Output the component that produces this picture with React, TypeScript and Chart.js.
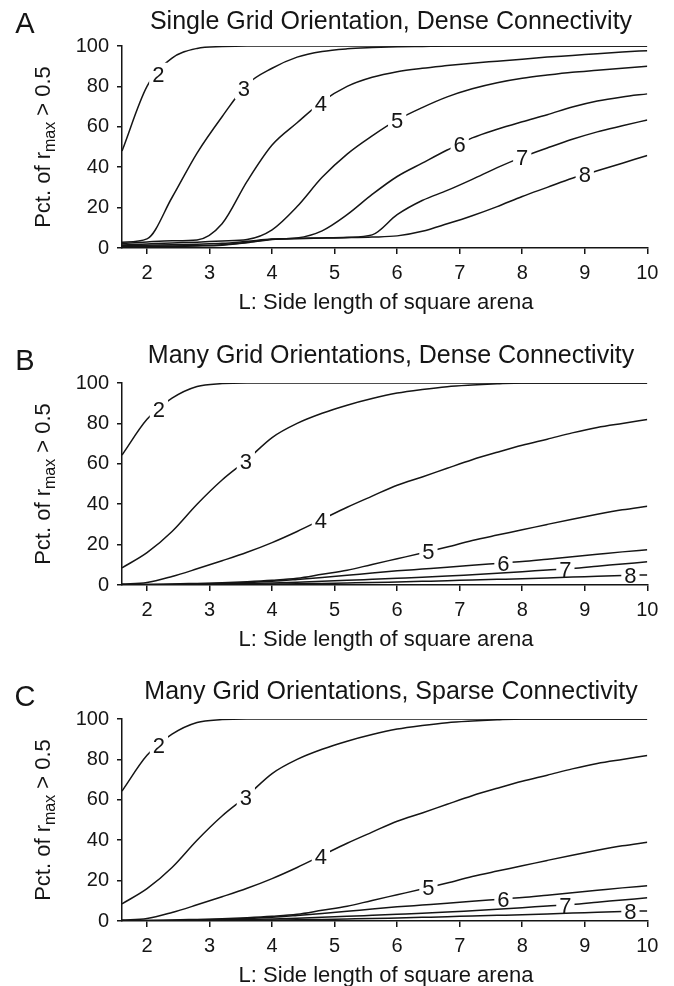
import { useEffect, useRef } from "react";
import { Chart, registerables } from "chart.js";

Chart.register(...registerables);

const FONT = "'Liberation Sans', Arial, Helvetica, sans-serif";
const INK = "#151515";

// Shared x sample positions (L: side length)
const xValues = [1.6, 2.0, 2.4, 2.8, 3.2, 3.6, 4.0, 4.4, 4.8, 5.2, 5.6, 6.0, 6.4, 6.8, 7.2, 7.6, 8.0, 8.4, 8.8, 9.2, 9.6, 10.0];
const xTickValues = [2, 3, 4, 5, 6, 7, 8, 9, 10];
const yTickValues = [0, 20, 40, 60, 80, 100];
const seriesNames = ["2", "3", "4", "5", "6", "7", "8"];

// Panel A: Single Grid Orientation, Dense Connectivity
const a2 = [48, 80, 94, 98.8, 99.7, 100, 100, 100, 100, 100, 100, 100, 100, 100, 100, 100, 100, 100, 100, 100, 100, 100];
const a3 = [2.8, 4.5, 25, 47, 65, 81, 89, 94.5, 97.3, 98.6, 99.2, 99.6, 99.8, 100, 100, 100, 100, 100, 100, 100, 100, 100];
const a4 = [2.2, 3.0, 3.6, 4.0, 12, 33, 51, 62, 72.5, 80, 84.5, 87.3, 89, 90.3, 91.5, 92.5, 93.5, 94.5, 95.3, 96.2, 97, 97.7];
const a5 = [1.5, 2.0, 2.5, 2.9, 3.5, 4.2, 9, 20.5, 35, 46.5, 55.5, 63.4, 69.5, 74.8, 78.8, 81.8, 84, 85.6, 87, 88, 89, 90];
const a6 = [1.2, 1.4, 1.6, 1.9, 2.3, 3.3, 4.4, 5.0, 8.5, 16.5, 26.5, 35.4, 42, 48.5, 54.5, 58.8, 62.5, 66, 69.8, 72.8, 74.8, 76.3];
const a7 = [0.8, 0.9, 1.0, 1.2, 1.6, 2.8, 4.3, 4.8, 5.0, 5.3, 6.5, 16.5, 23.5, 28.5, 34, 39.8, 45, 49.5, 53.8, 57.5, 60.5, 63.4];
const a8 = [0.6, 0.7, 0.8, 1.0, 1.4, 2.6, 4.2, 4.6, 4.9, 5.1, 5.4, 6.0, 8.3, 12, 16, 20.5, 25.5, 30, 34.5, 38.2, 42, 45.8];
const labelXA = [2.18, 3.55, 4.78, 6.0, 7.0, 8.0, 9.0];

// Panel B: Many Grid Orientations, Dense Connectivity
const b2 = [64.3, 82, 92.5, 98.3, 99.7, 100, 100, 100, 100, 100, 100, 100, 100, 100, 100, 100, 100, 100, 100, 100, 100, 100];
const b3 = [8.5, 16, 26.5, 40, 52, 62, 73, 80, 85, 89, 92.3, 95, 96.8, 98.2, 99, 99.6, 100, 100, 100, 100, 100, 100];
const b4 = [0.5, 1.2, 4.2, 8.0, 12, 16.2, 21, 26.5, 32.5, 38.5, 44, 49.4, 53.5, 57.8, 62, 65.7, 69.2, 72.2, 75.3, 78, 80, 81.9];
const b5 = [0.2, 0.3, 0.5, 0.8, 1.1, 1.6, 2.3, 3.3, 5.3, 7.3, 10.2, 13, 15.8, 18.8, 22, 24.7, 27.3, 30, 32.6, 35, 37.2, 39];
const b6 = [0.1, 0.2, 0.3, 0.5, 0.8, 1.2, 1.8, 2.7, 3.7, 4.8, 5.9, 7.0, 7.9, 8.8, 9.8, 10.7, 11.6, 12.8, 14.0, 15.2, 16.4, 17.5];
const b7 = [0.05, 0.1, 0.2, 0.3, 0.5, 0.7, 1.0, 1.4, 1.9, 2.3, 2.8, 3.3, 3.8, 4.4, 5.1, 5.8, 6.6, 7.4, 8.2, 9.3, 10.4, 11.5];
const b8 = [0, 0.05, 0.1, 0.15, 0.2, 0.3, 0.45, 0.6, 0.8, 1.0, 1.2, 1.5, 1.8, 2.1, 2.5, 2.8, 3.1, 3.5, 3.9, 4.3, 4.7, 5.0];
const labelXB = [2.19, 3.58, 4.78, 6.5, 7.7, 8.69, 9.73];

// Panel C: Many Grid Orientations, Sparse Connectivity
const c2 = [64.3, 82, 92.5, 98.3, 99.7, 100, 100, 100, 100, 100, 100, 100, 100, 100, 100, 100, 100, 100, 100, 100, 100, 100];
const c3 = [8.5, 16, 26.5, 40, 52, 62, 73, 80, 85, 89, 92.3, 95, 96.8, 98.2, 99, 99.6, 100, 100, 100, 100, 100, 100];
const c4 = [0.5, 1.2, 4.2, 8.0, 12, 16.2, 21, 26.5, 32.5, 38.5, 44, 49.4, 53.5, 57.8, 62, 65.7, 69.2, 72.2, 75.3, 78, 80, 81.9];
const c5 = [0.2, 0.3, 0.5, 0.8, 1.1, 1.6, 2.3, 3.3, 5.3, 7.3, 10.2, 13, 15.8, 18.8, 22, 24.7, 27.3, 30, 32.6, 35, 37.2, 39];
const c6 = [0.1, 0.2, 0.3, 0.5, 0.8, 1.2, 1.8, 2.7, 3.7, 4.8, 5.9, 7.0, 7.9, 8.8, 9.8, 10.7, 11.6, 12.8, 14.0, 15.2, 16.4, 17.5];
const c7 = [0.05, 0.1, 0.2, 0.3, 0.5, 0.7, 1.0, 1.4, 1.9, 2.3, 2.8, 3.3, 3.8, 4.4, 5.1, 5.8, 6.6, 7.4, 8.2, 9.3, 10.4, 11.5];
const c8 = [0, 0.05, 0.1, 0.15, 0.2, 0.3, 0.45, 0.6, 0.8, 1.0, 1.2, 1.5, 1.8, 2.1, 2.5, 2.8, 3.1, 3.5, 3.9, 4.3, 4.7, 5.0];
const labelXC = [2.19, 3.58, 4.78, 6.5, 7.7, 8.69, 9.73];

const panelLetters = ["A", "B", "C"];
const panelTitles = [
  "Single Grid Orientation, Dense Connectivity",
  "Many Grid Orientations, Dense Connectivity",
  "Many Grid Orientations, Sparse Connectivity",
];
const xAxisTitle = "L: Side length of square arena";
const yAxisMain = "Pct. of r";
const yAxisSub = "max";
const yAxisTail = " > 0.5";

const panels = [
  { series: [a2, a3, a4, a5, a6, a7, a8], labelX: labelXA },
  { series: [b2, b3, b4, b5, b6, b7, b8], labelX: labelXB },
  { series: [c2, c3, c4, c5, c6, c7, c8], labelX: labelXC },
];

const LABEL_SIZE = 22;
const TICK_SIZE = 20;
const AXIS_TITLE_SIZE = 22;

function labelPos(chart: any, i: number, lx: number) {
  const meta = chart.getDatasetMeta(i);
  const px = chart.scales.x.getPixelForValue(lx);
  const pts = meta.data;
  for (let k = 0; k < pts.length - 1; k++) {
    const p0 = pts[k];
    const p1 = pts[k + 1];
    if (px >= p0.x && px <= p1.x) {
      const t = (px - p0.x) / (p1.x - p0.x || 1);
      return { x: px, y: p0.y + t * (p1.y - p0.y) };
    }
  }
  return null;
}

function labelRect(chart: any, i: number, opts: any) {
  const lx = opts.xs[i];
  if (lx == null) return null;
  const p = labelPos(chart, i, lx);
  if (!p) return null;
  const ctx = chart.ctx;
  ctx.save();
  ctx.font = `${LABEL_SIZE}px ${FONT}`;
  const w = ctx.measureText(opts.texts[i]).width;
  ctx.restore();
  const h = LABEL_SIZE * 0.72;
  return { x: p.x - w / 2 - 3, y: p.y - h / 2 - 3, w: w + 6, h: h + 6, cx: p.x, cy: p.y };
}

const lineLabelPlugin = {
  id: "lineLabels",
  beforeDatasetDraw(chart: any, args: any, opts: any) {
    const r = labelRect(chart, args.index, opts);
    chart._lblClip = chart._lblClip || {};
    if (!r) {
      chart._lblClip[args.index] = false;
      return;
    }
    const ctx = chart.ctx;
    ctx.save();
    ctx.beginPath();
    ctx.rect(0, 0, chart.width, chart.height);
    ctx.rect(r.x, r.y, r.w, r.h);
    ctx.clip("evenodd");
    chart._lblClip[args.index] = true;
  },
  afterDatasetDraw(chart: any, args: any) {
    if (chart._lblClip && chart._lblClip[args.index]) {
      chart.ctx.restore();
      chart._lblClip[args.index] = false;
    }
  },
  afterDatasetsDraw(chart: any, _args: any, opts: any) {
    const ctx = chart.ctx;
    chart.data.datasets.forEach((_d: any, i: number) => {
      const r = labelRect(chart, i, opts);
      if (!r) return;
      ctx.save();
      ctx.font = `${LABEL_SIZE}px ${FONT}`;
      ctx.fillStyle = INK;
      ctx.textAlign = "center";
      ctx.textBaseline = "alphabetic";
      ctx.fillText(opts.texts[i], r.cx, r.cy + LABEL_SIZE * 0.36);
      ctx.restore();
    });
  },
};

const panelTextPlugin = {
  id: "panelText",
  afterDraw(chart: any, _args: any, opts: any) {
    const ctx = chart.ctx;
    const area = chart.chartArea;
    ctx.save();
    ctx.fillStyle = INK;
    // panel letter
    ctx.font = `29px ${FONT}`;
    ctx.textAlign = "center";
    ctx.textBaseline = "middle";
    ctx.fillText(opts.letter, 25, opts.letterY);
    // title
    ctx.font = `25px ${FONT}`;
    ctx.fillText(opts.title, 391, opts.titleY);
    // x axis title
    ctx.font = `${AXIS_TITLE_SIZE}px ${FONT}`;
    ctx.fillText(xAxisTitle, 386, area.bottom + 55);
    // y axis title with subscript
    ctx.translate(42, (area.top + area.bottom) / 2);
    ctx.rotate(-Math.PI / 2);
    ctx.textAlign = "left";
    ctx.textBaseline = "alphabetic";
    const fMain = `${AXIS_TITLE_SIZE}px ${FONT}`;
    const fSub = `16px ${FONT}`;
    ctx.font = fMain;
    const w1 = ctx.measureText(yAxisMain).width;
    const w3 = ctx.measureText(yAxisTail).width;
    ctx.font = fSub;
    const w2 = ctx.measureText(yAxisSub).width;
    let x = -(w1 + w2 + w3) / 2;
    const base = AXIS_TITLE_SIZE * 0.36;
    ctx.font = fMain;
    ctx.fillText(yAxisMain, x, base);
    x += w1;
    ctx.font = fSub;
    ctx.fillText(yAxisSub, x, base + 5);
    x += w2;
    ctx.font = fMain;
    ctx.fillText(yAxisTail, x, base);
    ctx.restore();
  },
};

function Panel({ index, top, height }: { index: number; top: number; height: number }) {
  const ref = useRef<HTMLCanvasElement>(null);
  useEffect(() => {
    const p = panels[index];
    const chart = new Chart(ref.current as HTMLCanvasElement, {
      type: "line",
      data: {
        datasets: p.series.map((vals, i) => ({
          label: seriesNames[i],
          data: xValues.map((x, k) => ({ x, y: vals[k] })),
          borderColor: INK,
          borderWidth: 1.5,
          pointRadius: 0,
          fill: false,
          cubicInterpolationMode: "monotone" as const,
        })),
      },
      options: {
        animation: false,
        responsive: false,
        maintainAspectRatio: false,
        events: [],
        layout: { padding: { top: 46, right: 26.7, bottom: 0, left: 0 } },
        plugins: {
          legend: { display: false },
          tooltip: { enabled: false },
          title: { display: false },
          lineLabels: { xs: p.labelX, texts: seriesNames },
          panelText: {
            letter: panelLetters[index],
            title: panelTitles[index],
            titleY: index === 0 ? 22 : 19,
            letterY: 25,
          },
        } as any,
        scales: {
          x: {
            type: "linear",
            min: 1.6,
            max: 10,
            afterBuildTicks: (s: any) => {
              s.ticks = xTickValues.map((v) => ({ value: v }));
            },
            afterFit: (s: any) => {
              s.height = height - 248;
            },
            ticks: {
              font: { family: FONT, size: TICK_SIZE },
              color: INK,
              padding: 7,
              maxRotation: 0,
              autoSkip: false,
            },
            grid: { drawOnChartArea: false, drawTicks: true, tickLength: 6, color: INK, lineWidth: 1.5 },
            border: { display: true, color: INK, width: 1.5 },
          },
          y: {
            type: "linear",
            min: 0,
            max: 100,
            afterBuildTicks: (s: any) => {
              s.ticks = yTickValues.map((v) => ({ value: v }));
            },
            afterFit: (s: any) => {
              s.width = 122;
            },
            ticks: {
              font: { family: FONT, size: TICK_SIZE },
              color: INK,
              padding: 8,
              autoSkip: false,
            },
            grid: { drawOnChartArea: false, drawTicks: true, tickLength: 5, color: INK, lineWidth: 1.5 },
            border: { display: true, color: INK, width: 1.5 },
          },
        },
      },
      plugins: [lineLabelPlugin as any, panelTextPlugin as any],
    });
    return () => chart.destroy();
  }, [index, height]);
  return (
    <canvas
      ref={ref}
      width={674}
      height={height}
      style={{ position: "absolute", left: 0, top, width: 674, height, display: "block" }}
    />
  );
}

export default function App() {
  return (
    <div style={{ position: "absolute", left: 0, top: 0, width: 674, height: 986, background: "#fff" }}>
      <Panel index={0} top={0} height={337} />
      <Panel index={1} top={337} height={336} />
      <Panel index={2} top={673} height={313} />
    </div>
  );
}
